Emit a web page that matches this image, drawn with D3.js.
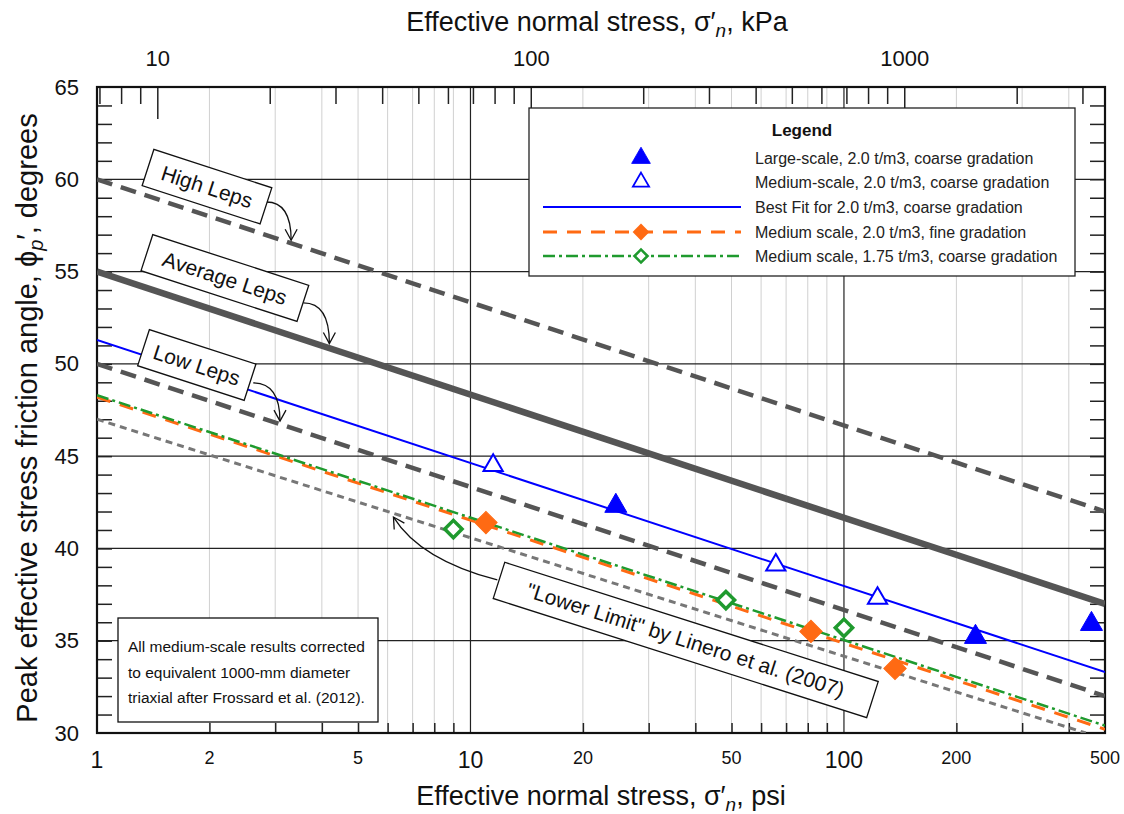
<!DOCTYPE html>
<html>
<head>
<meta charset="utf-8">
<script src="https://cdn.jsdelivr.net/npm/d3@7"></script>
<style>
  body { margin: 0; background: #fff; }
  svg { font-family: "Liberation Sans", Arial, sans-serif; }
</style>
</head>
<body>
<div id="chart"></div>
<script>
// data (psi, degrees)
var largeX = [24.5, 225, 460];
var largeY = [42.3, 35.2, 35.9];
var medX = [11.5, 65.7, 123];
var medY = [44.5, 39.1, 37.3];
var fineX = [11.0, 81.6, 137];
var fineY = [41.4, 35.5, 33.5];
var lightX = [9.0, 48.3, 100];
var lightY = [41.05, 37.2, 35.7];

// trend lines, two end points each
var lineX = [1, 500];
var highLeps = [60, 42];
var avgLeps = [55, 37];
var lowLeps = [50, 32];
var bestFit = [51.3, 33.3];
var fineFit = [48.2, 30.2];
var lightFit = [48.3, 30.4];
var lineroX = [1, 444];
var linero = [47, 30];

// ticks
var psiMinor = [2, 3, 4, 5, 6, 7, 8, 9, 20, 30, 40, 50, 60, 70, 80, 90, 200, 300, 400];
var psiBig = [1, 10, 100];
var psiSmall = [2, 5, 20, 50, 200, 500];
var kpaMinor = [7, 8, 9, 20, 30, 40, 50, 60, 70, 80, 90, 200, 300, 400, 500, 600, 700, 800, 900, 2000, 3000];
var kpaMajor = [10, 100, 1000];
var degTicks = [30, 35, 40, 45, 50, 55, 60, 65];

var legendLabels = [
  "Large-scale, 2.0 t/m3, coarse gradation",
  "Medium-scale, 2.0 t/m3, coarse gradation",
  "Best Fit for 2.0 t/m3, coarse gradation",
  "Medium scale, 2.0 t/m3, fine gradation",
  "Medium scale, 1.75 t/m3, coarse gradation"
];
var noteLines = [
  "All medium-scale results corrected",
  "to equivalent 1000-mm diameter",
  "triaxial after Frossard et al. (2012)."
];

var svgWidth = 1124;
var svgHeight = 814;
var margin = { top: 87, right: 19, bottom: 81, left: 97 };
var width = svgWidth - margin.left - margin.right;
var height = svgHeight - margin.top - margin.bottom;

var svg = d3.select("#chart")
  .append("svg")
  .attr("width", svgWidth)
  .attr("height", svgHeight);

var chartGroup = svg.append("g")
  .attr("transform", `translate(${margin.left}, ${margin.top})`);

// scales
var xScale = d3.scaleLog().domain([1, 500]).range([0, width]);
var kpaScale = d3.scaleLog().domain([6.895, 500 * 6.895]).range([0, width]);
var yScale = d3.scaleLinear().domain([30, 65]).range([height, 0]);

svg.append("defs").append("clipPath").attr("id", "plotclip")
  .append("rect").attr("width", width).attr("height", height);

svg.select("defs").append("marker")
  .attr("id", "vhead")
  .attr("viewBox", "-12 -7 14 14")
  .attr("markerWidth", 14).attr("markerHeight", 14)
  .attr("markerUnits", "userSpaceOnUse")
  .attr("orient", "auto")
  .append("path")
  .attr("d", "M-11,-6 L0,0 L-11,6")
  .attr("fill", "none").attr("stroke", "#111").attr("stroke-width", 1.3);

// grid
chartGroup.append("g").selectAll("line")
  .data(psiMinor).enter().append("line")
  .attr("x1", d => xScale(d)).attr("x2", d => xScale(d))
  .attr("y1", 0).attr("y2", height)
  .attr("stroke", "#d0d0d0").attr("stroke-width", 1);

chartGroup.append("g").selectAll("line")
  .data([10, 100]).enter().append("line")
  .attr("x1", d => xScale(d)).attr("x2", d => xScale(d))
  .attr("y1", 0).attr("y2", height)
  .attr("stroke", "#222").attr("stroke-width", 1.2);

chartGroup.append("g").selectAll("line")
  .data([35, 40, 45, 50, 55, 60]).enter().append("line")
  .attr("x1", 0).attr("x2", width)
  .attr("y1", d => yScale(d)).attr("y2", d => yScale(d))
  .attr("stroke", "#222").attr("stroke-width", 1.2);

// axes ticks (inside)
function plainTicks(g) {
  g.select(".domain").remove();
  g.selectAll(".tick line").attr("stroke", "#222").attr("stroke-width", 1.5);
}

chartGroup.append("g")
  .attr("transform", `translate(0, ${height})`)
  .call(d3.axisBottom(xScale).tickValues(psiMinor).tickSize(-10).tickFormat(""))
  .call(plainTicks);

chartGroup.append("g")
  .call(d3.axisTop(kpaScale).tickValues(kpaMinor).tickSize(-17).tickFormat(""))
  .call(plainTicks);

chartGroup.append("g")
  .call(d3.axisTop(kpaScale).tickValues(kpaMajor).tickSize(-32).tickPadding(21)
    .tickFormat(d3.format("d")))
  .call(plainTicks)
  .selectAll("text").attr("font-size", 22).attr("fill", "#111");

chartGroup.append("g")
  .call(d3.axisLeft(yScale).tickValues(d3.range(31, 65)).tickSize(-15).tickFormat(""))
  .call(plainTicks);

chartGroup.append("g")
  .attr("transform", `translate(${width}, 0)`)
  .call(d3.axisRight(yScale).tickValues(d3.range(31, 65)).tickSize(-15).tickFormat(""))
  .call(plainTicks);

chartGroup.append("g")
  .call(d3.axisLeft(yScale).tickValues(degTicks).tickSize(0).tickPadding(18))
  .call(g => g.select(".domain").remove())
  .selectAll("text").attr("font-size", 22).attr("fill", "#111");

// bottom tick labels, two sizes
chartGroup.append("g").selectAll("text")
  .data(psiBig).enter().append("text")
  .attr("x", d => xScale(d)).attr("y", height + 35)
  .attr("text-anchor", "middle").attr("font-size", 23).attr("fill", "#111")
  .text(d => d);

chartGroup.append("g").selectAll("text")
  .data(psiSmall).enter().append("text")
  .attr("x", d => xScale(d)).attr("y", height + 31)
  .attr("text-anchor", "middle").attr("font-size", 18).attr("fill", "#111")
  .text(d => d);

// frame
chartGroup.append("rect")
  .attr("width", width).attr("height", height)
  .attr("fill", "none").attr("stroke", "#111").attr("stroke-width", 2.2);

// trend lines
var lineGen = d3.line().x(d => xScale(d[0])).y(d => yScale(d[1]));
var lines = chartGroup.append("g").attr("clip-path", "url(#plotclip)");

function addLine(xs, ys, color, w, dash) {
  lines.append("path")
    .datum(d3.zip(xs, ys))
    .attr("d", lineGen)
    .attr("fill", "none")
    .attr("stroke", color)
    .attr("stroke-width", w)
    .attr("stroke-dasharray", dash);
}

addLine(lineX, highLeps, "#555", 4.5, "16,9");
addLine(lineX, avgLeps, "#555", 6.5, null);
addLine(lineX, lowLeps, "#555", 4.5, "16,9");
addLine(lineroX, linero, "#777", 3, "7,5");
addLine(lineX, fineFit, "#ff6a13", 3, "14,10");
addLine(lineX, lightFit, "#1f9a2e", 2.5, "12,4,3,4");
addLine(lineX, bestFit, "#0000ff", 2, null);

// markers
var triBig = d3.symbol(d3.symbolTriangle, 210);
var triOpen = d3.symbol(d3.symbolTriangle, 160);
var diaFill = d3.symbol(d3.symbolSquare, 250);
var diaOpen = d3.symbol(d3.symbolSquare, 150);

function addMarks(xs, ys, sym, fill, stroke, sw, rot) {
  chartGroup.append("g").selectAll("path")
    .data(d3.zip(xs, ys)).enter().append("path")
    .attr("d", sym)
    .attr("transform", d => `translate(${xScale(d[0])}, ${yScale(d[1])}) rotate(${rot})`)
    .attr("fill", fill).attr("stroke", stroke).attr("stroke-width", sw);
}

addMarks(largeX, largeY, triBig, "#0000ff", "#0000ff", 1, 0);
addMarks(medX, medY, triOpen, "#fff", "#0000ff", 2, 0);
addMarks(fineX, fineY, diaFill, "#ff6a13", "#ff6a13", 1, 45);
addMarks(lightX, lightY, diaOpen, "#fff", "#1f9a2e", 3.5, 45);

// annotation boxes with arrows (positions in psi / degrees)
var notes = [
  { text: "High Leps", x: 1.97, y: 59.6, w: 124, angle: 18,
    from: [2.84, 58.77], ctrl: [3.31, 58.77], to: [3.31, 56.7] },
  { text: "Average Leps", x: 2.2, y: 54.65, w: 164, angle: 18,
    from: [3.57, 53.3], ctrl: [4.19, 53.3], to: [4.19, 51.1] },
  { text: "Low Leps", x: 1.85, y: 49.94, w: 112, angle: 18,
    from: [2.62, 48.97], ctrl: [3.09, 48.97], to: [3.09, 46.9] },
  { text: "\"Lower Limit\" by Linero et al. (2007)", x: 37.7, y: 35.04, w: 392, angle: 17.7,
    from: [11.8, 38.29], ctrl: [7.34, 39.38], to: [6.22, 41.7] }
];

var noteGroup = chartGroup.append("g");
notes.forEach(function (n) {
  noteGroup.append("path")
    .attr("d", `M${xScale(n.from[0])},${yScale(n.from[1])} Q${xScale(n.ctrl[0])},${yScale(n.ctrl[1])} ${xScale(n.to[0])},${yScale(n.to[1])}`)
    .attr("fill", "none").attr("stroke", "#111").attr("stroke-width", 1.3)
    .attr("marker-end", "url(#vhead)");

  var g = noteGroup.append("g")
    .attr("transform", `translate(${xScale(n.x)}, ${yScale(n.y)}) rotate(${n.angle})`);
  g.append("rect")
    .attr("x", -n.w / 2).attr("y", -19).attr("width", n.w).attr("height", 38)
    .attr("fill", "#fff").attr("stroke", "#111").attr("stroke-width", 1.3);
  g.append("text")
    .attr("text-anchor", "middle").attr("y", 7.5)
    .attr("font-size", 21).attr("fill", "#111")
    .text(n.text);
});

// note box, lower left
var noteBox = chartGroup.append("g").attr("transform", "translate(21, 531)");
noteBox.append("rect")
  .attr("width", 260).attr("height", 104)
  .attr("fill", "#fff").attr("stroke", "#111").attr("stroke-width", 1.3);
noteBox.selectAll("text")
  .data(noteLines).enter().append("text")
  .attr("x", 10).attr("y", (d, i) => 34 + i * 25.5)
  .attr("font-size", 15.5).attr("fill", "#111")
  .text(d => d);

// legend
var legend = chartGroup.append("g").attr("transform", "translate(432, 21)");
legend.append("rect")
  .attr("width", 546).attr("height", 168)
  .attr("fill", "#fff").attr("stroke", "#222").attr("stroke-width", 1.3);
legend.append("text")
  .attr("x", 273).attr("y", 28).attr("text-anchor", "middle")
  .attr("font-size", 17).attr("font-weight", "bold").attr("fill", "#111")
  .text("Legend");

var rowY = [50, 74, 99, 124, 148];
legend.selectAll(".lab")
  .data(legendLabels).enter().append("text")
  .attr("class", "lab")
  .attr("x", 226).attr("y", (d, i) => rowY[i] + 6)
  .attr("font-size", 16).attr("fill", "#222")
  .text(d => d);

var lx = 112;
legend.append("path").attr("d", triBig)
  .attr("fill", "#0000ff").attr("stroke", "#0000ff").attr("transform", `translate(${lx}, ${rowY[0]}) scale(0.85)`);
legend.append("path").attr("d", triOpen).attr("transform", `translate(${lx}, ${rowY[1]}) scale(0.85)`)
  .attr("fill", "#fff").attr("stroke", "#0000ff").attr("stroke-width", 2);
legend.append("line").attr("x1", 14).attr("x2", 212).attr("y1", rowY[2]).attr("y2", rowY[2])
  .attr("stroke", "#0000ff").attr("stroke-width", 2);
legend.append("line").attr("x1", 14).attr("x2", 212).attr("y1", rowY[3]).attr("y2", rowY[3])
  .attr("stroke", "#ff6a13").attr("stroke-width", 3).attr("stroke-dasharray", "14,10");
legend.append("path").attr("d", diaFill).attr("transform", `translate(${lx}, ${rowY[3]}) rotate(45) scale(0.75)`)
  .attr("fill", "#ff6a13");
legend.append("line").attr("x1", 14).attr("x2", 212).attr("y1", rowY[4]).attr("y2", rowY[4])
  .attr("stroke", "#1f9a2e").attr("stroke-width", 2.5).attr("stroke-dasharray", "12,4,3,4");
legend.append("path").attr("d", diaOpen).attr("transform", `translate(${lx}, ${rowY[4]}) rotate(45) scale(0.75)`)
  .attr("fill", "#fff").attr("stroke", "#1f9a2e").attr("stroke-width", 3.5);

// axis titles
var topTitle = svg.append("text")
  .attr("x", margin.left + width / 2 - 4).attr("y", 31)
  .attr("text-anchor", "middle").attr("font-size", 27).attr("fill", "#111");
topTitle.append("tspan").text("Effective normal stress, σ′");
topTitle.append("tspan").attr("font-style", "italic").attr("font-size", 19).attr("dy", 6).text("n");
topTitle.append("tspan").attr("dy", -6).text(", kPa");

var botTitle = svg.append("text")
  .attr("x", margin.left + width / 2).attr("y", 805)
  .attr("text-anchor", "middle").attr("font-size", 27).attr("fill", "#111");
botTitle.append("tspan").text("Effective normal stress, σ′");
botTitle.append("tspan").attr("font-style", "italic").attr("font-size", 19).attr("dy", 6).text("n");
botTitle.append("tspan").attr("dy", -6).text(", psi");

var yTitle = svg.append("text")
  .attr("transform", `translate(37, ${margin.top + height / 2 + 8}) rotate(-90)`)
  .attr("text-anchor", "middle").attr("font-size", 29).attr("fill", "#111");
yTitle.append("tspan").text("Peak effective stress friction angle, ϕ");
yTitle.append("tspan").attr("font-style", "italic").attr("font-size", 20).attr("dy", 6).text("p");
yTitle.append("tspan").attr("dy", -6).text("′, degrees");
</script>
</body>
</html>
